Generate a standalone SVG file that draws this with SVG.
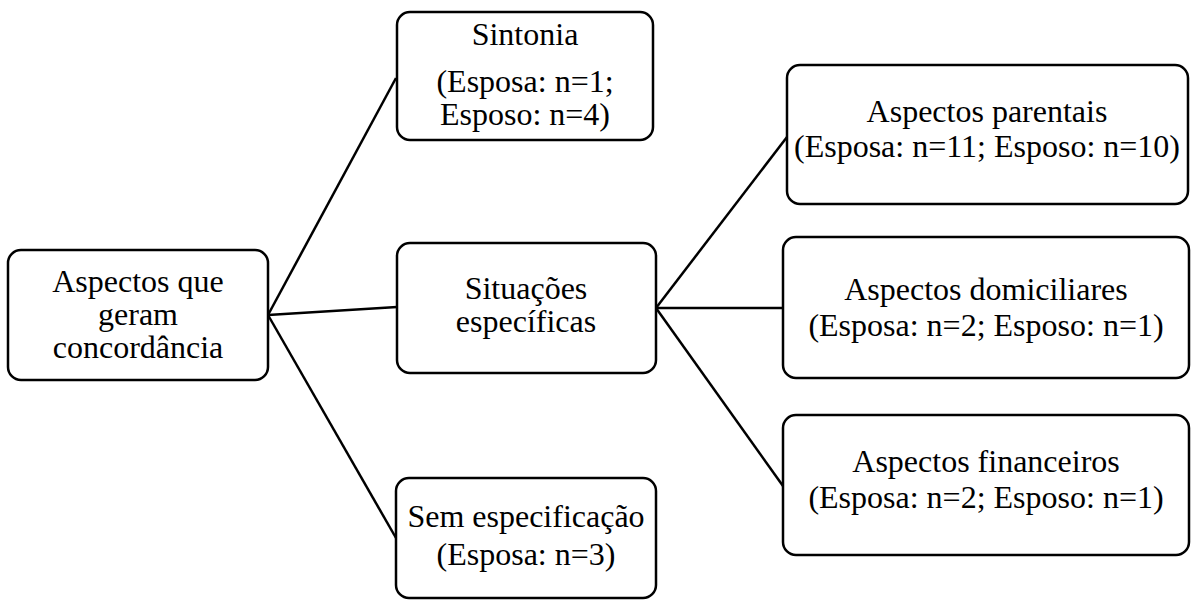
<svg xmlns="http://www.w3.org/2000/svg" width="1192" height="600" viewBox="0 0 1192 600">
  <style>
    .box { fill: #ffffff; stroke: #000000; stroke-width: 2.5; }
    .lbl { font-family: "Liberation Serif", "Times New Roman", serif; font-size: 32px; fill: #000000; text-anchor: middle; }
    .edge { stroke: #000000; stroke-width: 2.5; fill: none; }
  </style>
  <rect width="1192" height="600" fill="#ffffff"/>

  <!-- connectors -->
  <g id="connectors">
    <line class="edge" x1="268" y1="315" x2="396" y2="78"/>
    <line class="edge" x1="268" y1="315" x2="397" y2="307"/>
    <line class="edge" x1="268" y1="315" x2="396" y2="538"/>
    <line class="edge" x1="656" y1="308" x2="787" y2="137"/>
    <line class="edge" x1="656" y1="308" x2="783" y2="308"/>
    <line class="edge" x1="656" y1="308" x2="783" y2="486"/>
  </g>

  <g id="root">
    <rect class="box" x="8" y="250" width="260" height="130" rx="13"/>
    <text class="lbl" x="138" y="292">Aspectos que</text>
    <text class="lbl" x="138" y="325">geram</text>
    <text class="lbl" x="138" y="358">concordância</text>
  </g>

  <g id="sintonia">
    <rect class="box" x="397" y="12" width="256" height="128" rx="13"/>
    <text class="lbl" x="525" y="45">Sintonia</text>
    <text class="lbl" x="525" y="92">(Esposa: n=1;</text>
    <text class="lbl" x="525" y="125">Esposo: n=4)</text>
  </g>

  <g id="situacoes">
    <rect class="box" x="397" y="243" width="259" height="130" rx="13"/>
    <text class="lbl" x="526" y="299">Situações</text>
    <text class="lbl" x="526" y="332">específicas</text>
  </g>

  <g id="sem-especificacao">
    <rect class="box" x="396" y="478" width="260" height="120" rx="13"/>
    <text class="lbl" x="526" y="527">Sem especificação</text>
    <text class="lbl" x="526" y="565">(Esposa: n=3)</text>
  </g>

  <g id="parentais">
    <rect class="box" x="787" y="65" width="401" height="139" rx="13"/>
    <text class="lbl" x="987" y="122">Aspectos parentais</text>
    <text class="lbl" x="987" y="157">(Esposa: n=11; Esposo: n=10)</text>
  </g>

  <g id="domiciliares">
    <rect class="box" x="783" y="237" width="406" height="141" rx="13"/>
    <text class="lbl" x="986" y="300">Aspectos domiciliares</text>
    <text class="lbl" x="986" y="336">(Esposa: n=2; Esposo: n=1)</text>
  </g>

  <g id="financeiros">
    <rect class="box" x="783" y="415" width="406" height="140" rx="13"/>
    <text class="lbl" x="986" y="472">Aspectos financeiros</text>
    <text class="lbl" x="986" y="508">(Esposa: n=2; Esposo: n=1)</text>
  </g>
</svg>
